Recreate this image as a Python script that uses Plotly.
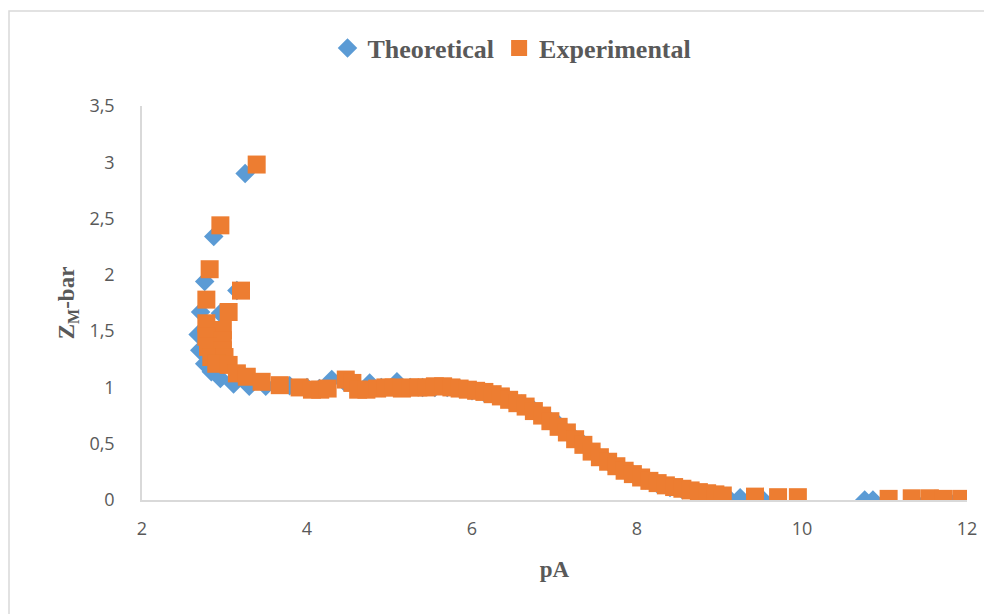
import plotly.graph_objects as go

# ---- data ----
theo_pA = [3.25, 2.87, 2.76, 3.15, 2.71, 2.95, 2.68, 2.70, 2.76, 2.84, 2.95, 3.11, 3.30, 3.50,
           3.79, 4.00, 4.15, 4.30, 4.45, 4.60, 4.76, 4.90, 5.09, 5.25, 5.40, 5.55, 5.70, 5.85,
           6.00, 6.15, 6.30, 6.45, 6.60, 6.75, 6.90, 7.05, 7.20, 7.35, 7.50, 7.65, 7.80, 7.95,
           8.10, 8.25, 8.40, 8.55, 8.70, 8.85, 9.09, 9.25, 9.53, 10.76, 10.86, 11.35, 11.77]
theo_Z = [2.90, 2.34, 1.94, 1.86, 1.67, 1.66, 1.47, 1.33, 1.21, 1.14, 1.08, 1.03, 1.01, 1.01,
          1.015, 1.00, 0.99, 1.07, 1.05, 1.00, 1.04, 1.00, 1.05, 1.00, 1.00, 1.00, 1.00, 0.99,
          0.97, 0.95, 0.93, 0.89, 0.85, 0.80, 0.74, 0.67, 0.58, 0.50, 0.41, 0.34, 0.28, 0.23,
          0.18, 0.14, 0.11, 0.09, 0.07, 0.05, 0.03, 0.02, 0.00, 0.00, 0.00, 0.00, 0.00]

exp_pA = [3.39, 2.95, 2.82, 3.20, 2.78, 3.05, 2.78, 2.98, 2.78, 2.98, 2.80, 2.98, 2.84, 3.00,
          2.90, 3.05, 3.15, 3.27, 3.45, 3.67, 3.91, 4.06, 4.16, 4.25, 4.47, 4.55, 4.62, 4.72,
          4.85, 4.95, 5.05, 5.15, 5.25, 5.35, 5.45, 5.55, 5.65, 5.75, 5.85, 5.95, 6.05, 6.15,
          6.25, 6.35, 6.45, 6.55, 6.65, 6.75, 6.85, 6.95, 7.05, 7.15, 7.25, 7.35, 7.45, 7.55,
          7.65, 7.75, 7.85, 7.95, 8.05, 8.15, 8.25, 8.35, 8.45, 8.55, 8.65, 8.75, 8.85, 8.95,
          9.04, 9.43, 9.71, 9.95, 11.05, 11.33, 11.55, 11.71, 11.93]
exp_Z = [2.98, 2.44, 2.05, 1.86, 1.78, 1.67, 1.57, 1.51, 1.45, 1.42, 1.36, 1.33, 1.27, 1.27,
         1.21, 1.20, 1.125, 1.095, 1.05, 1.02, 1.00, 0.98, 0.98, 0.99, 1.07, 1.04, 0.98, 0.98,
         0.99, 1.00, 1.00, 0.99, 1.00, 1.00, 1.00, 1.01, 1.01, 1.00, 0.99, 0.98, 0.97, 0.96,
         0.94, 0.92, 0.89, 0.86, 0.83, 0.79, 0.75, 0.70, 0.65, 0.60, 0.54, 0.49, 0.43, 0.38,
         0.34, 0.30, 0.26, 0.23, 0.20, 0.17, 0.15, 0.13, 0.115, 0.10, 0.085, 0.07, 0.06, 0.05,
         0.04, 0.03, 0.025, 0.025, 0.01, 0.015, 0.015, 0.01, 0.01]

x_ticks = [2, 4, 6, 8, 10, 12]
y_ticks = [0, 0.5, 1, 1.5, 2, 2.5, 3, 3.5]

BLUE = "#5B9BD5"
ORANGE = "#ED7D31"
GREY_TXT = "#595959"
SERIF = "Liberation Serif, Times New Roman, serif"
SANS = "Open Sans, Noto Sans, sans-serif"

# page has an 8px body margin, so the figure is 984x606
W, H = 984, 606
L, R, T, B = 134, 25, 98, 114
PW, PH = W - L - R, H - T - B

fig = go.Figure()
fig.add_trace(go.Scatter(x=theo_pA, y=theo_Z, mode="markers", name="<b>Theoretical</b>",
                         marker=dict(symbol="diamond", size=15, color=BLUE)))
fig.add_trace(go.Scatter(x=exp_pA, y=exp_Z, mode="markers", name="<b>Experimental</b>",
                         marker=dict(symbol="square", size=18, color=ORANGE)))

fig.update_layout(
    width=W, height=H,
    margin=dict(l=L, r=R, t=T, b=B),
    paper_bgcolor="white", plot_bgcolor="white",
    separators=", ",
    showlegend=True,
    legend=dict(orientation="h", x=(504 - 134) / PW, xanchor="center",
                y=(PH + T - 40) / PH, yanchor="middle",
                font=dict(family=SERIF, size=26, color=GREY_TXT),
                itemsizing="trace", itemwidth=30, tracegroupgap=0),
    xaxis=dict(range=[2, 12], tickvals=x_ticks, showgrid=False, zeroline=False,
               showline=True, linecolor="#d9d9d9", linewidth=1.5, ticks="",
               ticklabelstandoff=12,
               tickfont=dict(family=SANS, size=18, color=GREY_TXT),
               title=dict(text="<b>pA</b>", font=dict(family=SERIF, size=23, color=GREY_TXT),
                          standoff=22)),
    yaxis=dict(range=[0, 3.5], tickvals=y_ticks, showgrid=False, zeroline=False,
               showline=True, linecolor="#d9d9d9", linewidth=1.5, ticks="",
               ticklabelstandoff=22,
               tickfont=dict(family=SANS, size=18, color=GREY_TXT),
               title=dict(text="<b>Z<sub>M</sub>-bar</b>",
                          font=dict(family=SERIF, size=23, color=GREY_TXT), standoff=8)),
    shapes=[dict(type="rect", xref="paper", yref="paper",
                 x0=(1 - L) / PW, x1=1.06, y0=-0.3, y1=(PH + T - 3) / PH,
                 line=dict(color="#d9d9d9", width=1.5), fillcolor="rgba(0,0,0,0)",
                 layer="below")],
)

fig.write_html("out.html")
